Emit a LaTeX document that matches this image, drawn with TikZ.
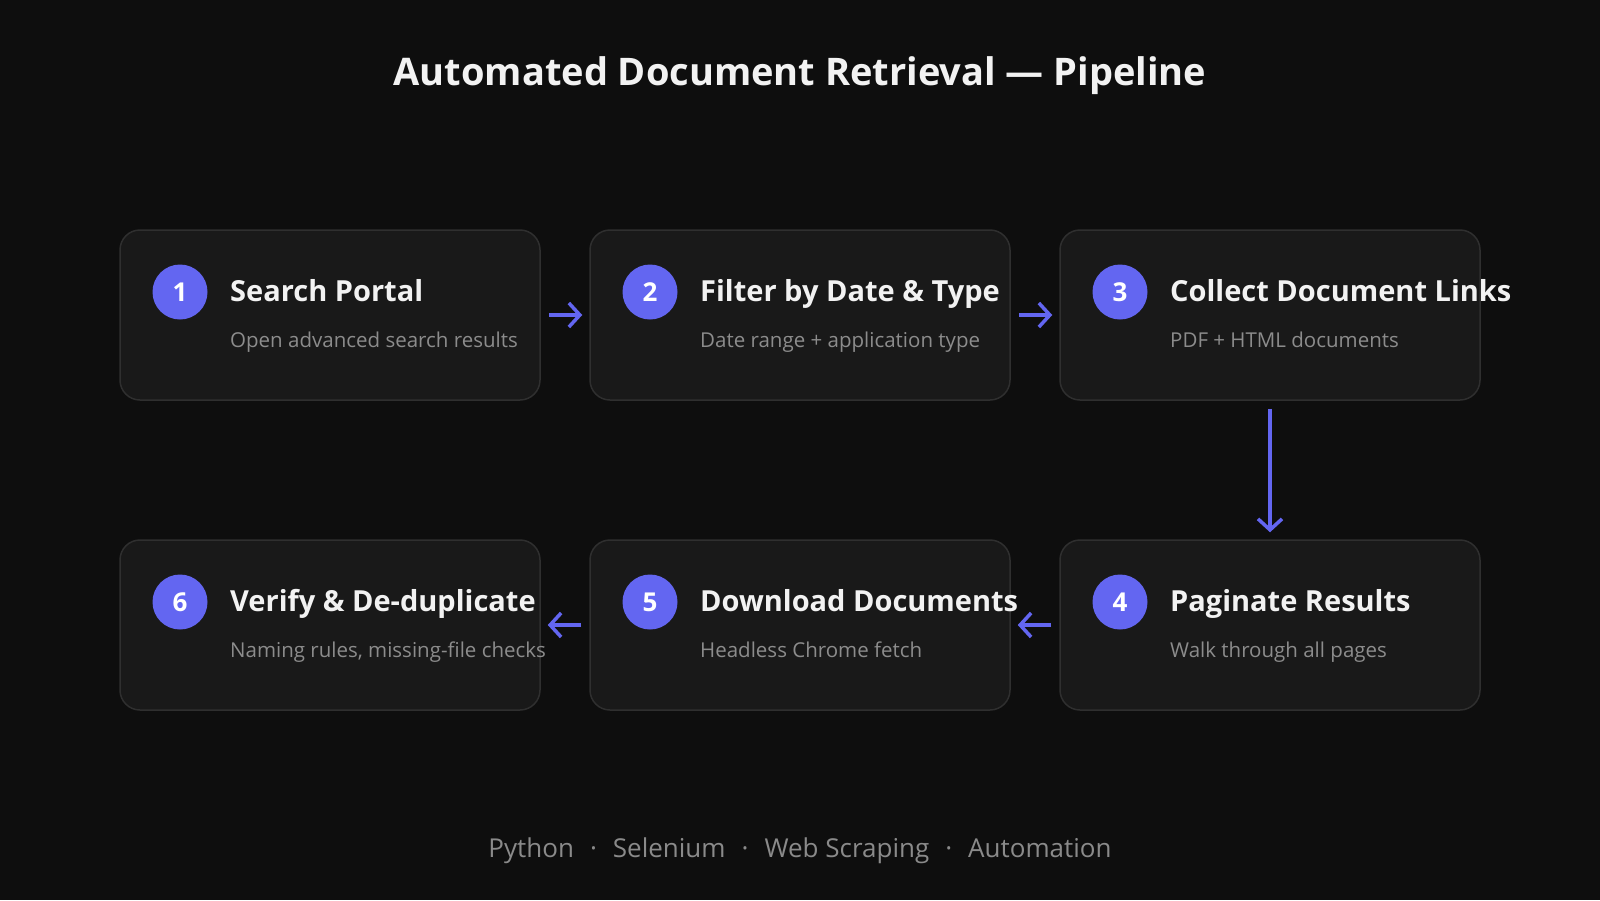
\documentclass[tikz,border=0pt]{standalone}
\usepackage{fontspec}
\setmainfont{Open Sans}
\usetikzlibrary{arrows.meta}
\definecolor{bgc}{HTML}{0E0E0E}
\definecolor{boxfill}{HTML}{191919}
\definecolor{boxline}{HTML}{2F2F2F}
\definecolor{accent}{HTML}{6366F1}
\definecolor{titlec}{HTML}{F2F2F2}
\definecolor{subc}{HTML}{8C8C8C}
\definecolor{footc}{HTML}{8A8A8A}
\tikzset{
  stepbox/.style={draw=boxline, line width=1.5pt, fill=boxfill, rounded corners=20pt,
    minimum width=420pt, minimum height=170pt, inner sep=0pt},
  numdot/.style={circle, fill=accent, minimum size=55pt, inner sep=0pt, text=white,
    font=\fontsize{26}{30}\selectfont\bfseries},
  steptitle/.style={anchor=base west, inner sep=0pt, text=titlec,
    font=\fontsize{29}{34}\selectfont\bfseries},
  stepsub/.style={anchor=base west, inner sep=0pt, text=subc,
    font=\fontsize{20.5}{24}\selectfont},
  flow/.style={draw=accent, line width=3.5pt, line join=round,
    -{Straight Barb[length=11pt,width=24pt,line width=3.5pt]}},
}
\newcommand{\fsep}{\hspace{16pt}·\hspace{16pt}}
\begin{document}
\begin{tikzpicture}[x=1pt,y=-1pt]
\fill[bgc] (0,0) rectangle (1600,900);
\useasboundingbox (0,0) rectangle (1600,900);
\node[anchor=base, inner sep=0pt, text=titlec, font=\fontsize{38}{45}\selectfont\bfseries]
  (title) at (800,85) {Automated Document Retrieval — Pipeline};
% row 1
\node[stepbox] (b1) at (330,315) {};
\node[stepbox] (b2) at (800,315) {};
\node[stepbox] (b3) at (1270,315) {};
% row 2
\node[stepbox] (b6) at (330,625) {};
\node[stepbox] (b5) at (800,625) {};
\node[stepbox] (b4) at (1270,625) {};
% numbers
\node[numdot] (n1) at (180,292) {1};
\node[numdot] (n2) at (650,292) {2};
\node[numdot] (n3) at (1120,292) {3};
\node[numdot] (n4) at (1120,602) {4};
\node[numdot] (n5) at (650,602) {5};
\node[numdot] (n6) at (180,602) {6};
% titles
\node[steptitle] (t1) at (230,301) {Search Portal};
\node[stepsub] (s1) at (230,347) {Open advanced search results};
\node[steptitle] (t2) at (700,301) {Filter by Date \& Type};
\node[stepsub] (s2) at (700,347) {Date range + application type};
\node[steptitle] (t3) at (1170,301) {Collect Document Links};
\node[stepsub] (s3) at (1170,347) {PDF + HTML documents};
\node[steptitle] (t4) at (1170,611) {Paginate Results};
\node[stepsub] (s4) at (1170,657) {Walk through all pages};
\node[steptitle] (t5) at (700,611) {Download Documents};
\node[stepsub] (s5) at (700,657) {Headless Chrome fetch};
\node[steptitle] (t6) at (230,611) {Verify \& De-duplicate};
\node[stepsub] (s6) at (230,657) {Naming rules, missing-file checks};
% connectors
\draw[flow] ([xshift=8pt]b1.east) -- ([xshift=-7pt]b2.west);
\draw[flow] ([xshift=8pt]b2.east) -- ([xshift=-7pt]b3.west);
\draw[flow] ([yshift=-8pt]b3.south) -- ([yshift=7pt]b4.north);
\draw[flow] ([xshift=-8pt]b4.west) -- ([xshift=7pt]b5.east);
\draw[flow] ([xshift=-8pt]b5.west) -- ([xshift=7pt]b6.east);
% footer
\node[anchor=base, inner sep=0pt, text=footc, font=\fontsize{26}{31}\selectfont]
  (foot) at (800,857) {Python\fsep Selenium\fsep Web Scraping\fsep Automation};
\end{tikzpicture}
\end{document}
